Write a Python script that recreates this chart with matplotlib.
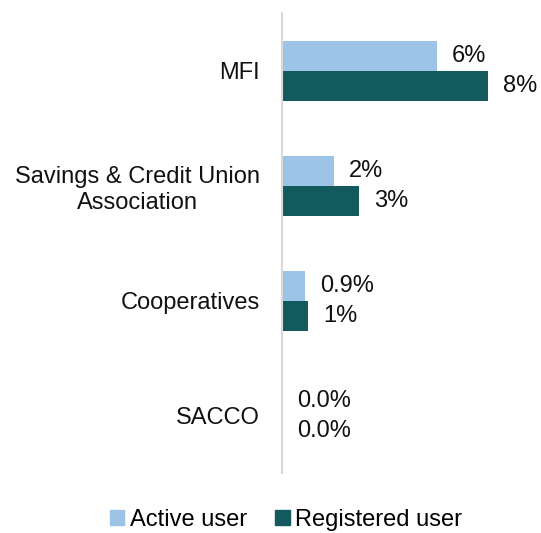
import matplotlib.pyplot as plt
import numpy as np
from matplotlib.patches import Patch

plt.rcParams['font.family'] = ['Liberation Sans', 'DejaVu Sans']

# categories, top to bottom
categories = ['MFI', 'Savings & Credit Union\nAssociation', 'Cooperatives', 'SACCO']
active = [6.0, 2.0, 0.9, 0.0]
registered = [8.0, 3.0, 1.0, 0.0]
active_labels = ['6%', '2%', '0.9%', '0.0%']
registered_labels = ['8%', '3%', '1%', '0.0%']

c_active = '#9DC3E6'
c_registered = '#135A5F'

fig = plt.figure(figsize=(5.41, 5.33), dpi=100)
ax = fig.add_axes([0.5213, 0.112, 0.476, 0.863])

y = np.arange(len(categories))
h = 0.26
ax.barh(y - h / 2, active, height=h, color=c_active, label='Active user')
ax.barh(y + h / 2, registered, height=h, color=c_registered, label='Registered user')

# value labels just past the end of each bar
for yi, v, lab in zip(y, active, active_labels):
    ax.annotate(lab, (v, yi - h / 2), xytext=(11, 0), textcoords='offset points',
                ha='left', va='center', fontsize=17, color='#111111')
for yi, v, lab in zip(y, registered, registered_labels):
    ax.annotate(lab, (v, yi + h / 2), xytext=(11, 0), textcoords='offset points',
                ha='left', va='center', fontsize=17, color='#111111')

ax.set_xlim(0, 10)
ax.set_ylim(3.5, -0.5)
ax.set_yticks(y)
ax.set_yticklabels(categories, fontsize=17, color='#111111', multialignment='center')
ax.tick_params(axis='y', length=0, pad=16)
ax.set_xticks([])
for s in ['top', 'right', 'bottom']:
    ax.spines[s].set_visible(False)
ax.spines['left'].set_color('#d9d9d9')
ax.spines['left'].set_linewidth(1.5)

handles = [Patch(color=c_active, label='Active user'),
           Patch(color=c_registered, label='Registered user')]
fig.legend(handles=handles, loc='center', bbox_to_anchor=(0.529, 0.024), ncol=2,
           frameon=False, fontsize=17, handlelength=0.6, handleheight=0.6,
           handletextpad=0.25, columnspacing=1.2, borderpad=0)

plt.savefig('out.png', dpi=100)
